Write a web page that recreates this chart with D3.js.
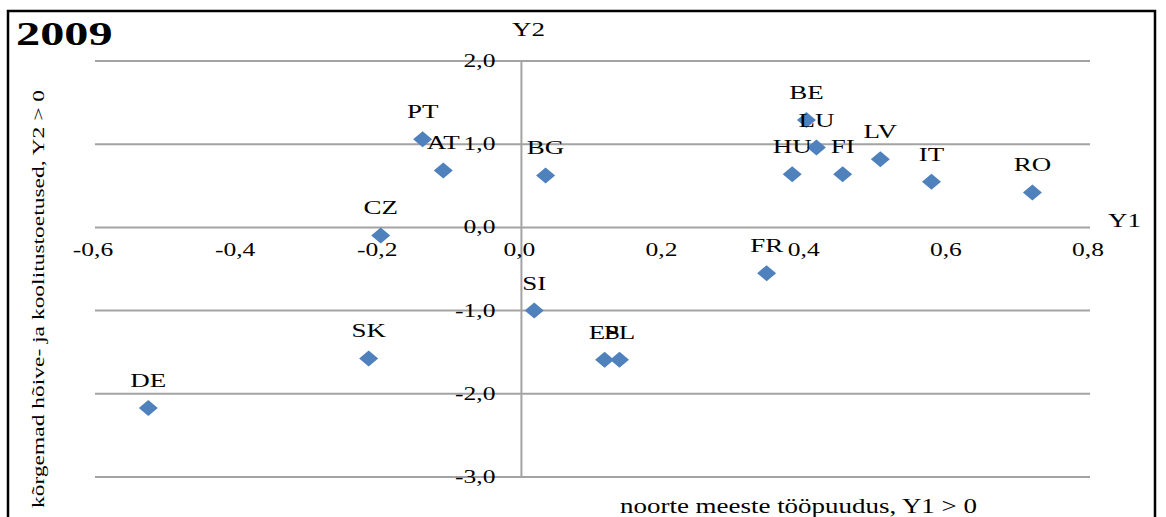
<!DOCTYPE html>
<html>
<head>
<meta charset="utf-8">
<script src="https://cdn.jsdelivr.net/npm/d3@7"></script>
<style>
  body { margin: 0; background: #fff; }
  svg text { font-family: "Liberation Serif", "Times New Roman", Times, "DejaVu Serif", serif; fill: #000; }
</style>
</head>
<body>
<div id="chart"></div>
<script>
// data
const countries = ['PT', 'AT', 'BG', 'CZ', 'BE', 'LU', 'HU', 'FI', 'LV', 'IT', 'RO', 'FR', 'SI', 'ES', 'PL', 'SK', 'DE'];
const y1Values = [-0.139, -0.110, 0.034, -0.198, 0.401, 0.415, 0.381, 0.452, 0.505, 0.577, 0.719, 0.345, 0.018, 0.117, 0.138, -0.215, -0.525];
const y2Values = [1.06, 0.685, 0.625, -0.096, 1.29, 0.96, 0.64, 0.64, 0.82, 0.55, 0.42, -0.55, -1.0, -1.59, -1.59, -1.575, -2.17];
const xTicks = [-0.6, -0.4, -0.2, 0.0, 0.2, 0.4, 0.6, 0.8];
const yTicks = [2, 1, 0, -1, -2, -3];

const W = 1166, H = 517;
const sx = 1.42; // the picture is stretched sideways
const gridColor = '#a3a3a3';
const markColor = '#4f81bd';
const serif = '"Liberation Serif", "Times New Roman", Times, "DejaVu Serif", serif';

const x = d3.scaleLinear().domain([-0.6, 0.8]).range([95, 1090]);
const y = d3.scaleLinear().domain([-3, 2]).range([477, 61]);
const fmt = v => d3.format('.1f')(v).replace('.', ',').replace('−', '-');

const svg = d3.select('#chart').append('svg')
  .attr('width', W)
  .attr('height', H)
  .attr('font-family', serif);

// frame
svg.append('rect')
  .attr('x', 8).attr('y', 11)
  .attr('width', 1147).attr('height', 530)
  .attr('fill', 'none')
  .attr('stroke', '#000')
  .attr('stroke-width', 2.5);

// horizontal gridlines
svg.selectAll('.grid')
  .data(yTicks)
  .enter().append('line')
  .attr('class', 'grid')
  .attr('x1', x(-0.6)).attr('x2', x(0.8))
  .attr('y1', d => y(d)).attr('y2', d => y(d))
  .attr('stroke', gridColor)
  .attr('stroke-width', 2);

// vertical axis at Y1 = 0
svg.append('line')
  .attr('x1', x(0)).attr('x2', x(0))
  .attr('y1', y(2)).attr('y2', y(-3))
  .attr('stroke', gridColor)
  .attr('stroke-width', 2);

// y tick labels
svg.selectAll('.ylab')
  .data(yTicks)
  .enter().append('text')
  .attr('class', 'ylab')
  .attr('text-anchor', 'end')
  .attr('font-size', 18)
  .attr('transform', d => `translate(${x(0) - 26},${y(d) + 6}) scale(${sx},1)`)
  .text(d => fmt(d));

// x tick labels
svg.selectAll('.xlab')
  .data(xTicks)
  .enter().append('text')
  .attr('class', 'xlab')
  .attr('text-anchor', 'middle')
  .attr('font-size', 18)
  .attr('transform', d => `translate(${x(d) - 2},${y(0) + 29}) scale(${sx},1)`)
  .text(d => fmt(d));

// points
const pts = countries.map((c, i) => ({ name: c, y1: y1Values[i], y2: y2Values[i] }));

svg.selectAll('.pt')
  .data(pts)
  .enter().append('path')
  .attr('class', 'pt')
  .attr('d', 'M0,-8L9.5,0L0,8L-9.5,0Z')
  .attr('transform', d => `translate(${x(d.y1)},${y(d.y2)})`)
  .attr('fill', markColor);

svg.selectAll('.plab')
  .data(pts)
  .enter().append('text')
  .attr('class', 'plab')
  .attr('text-anchor', 'middle')
  .attr('font-size', 19)
  .attr('transform', d => `translate(${x(d.y1)},${y(d.y2) - 21}) scale(${sx},1)`)
  .text(d => d.name);

// title
svg.append('text')
  .attr('font-size', 34)
  .attr('font-weight', 'bold')
  .attr('transform', `translate(16,45) scale(${sx},1)`)
  .text('2009');

// axis names
svg.append('text')
  .attr('font-size', 19)
  .attr('transform', `translate(512,36) scale(${sx},1)`)
  .text('Y2');

svg.append('text')
  .attr('font-size', 19)
  .attr('transform', `translate(1108,227) scale(${sx},1)`)
  .text('Y1');

svg.append('text')
  .attr('x', 620).attr('y', 513)
  .attr('font-size', 20)
  .attr('textLength', 357)
  .attr('lengthAdjust', 'spacingAndGlyphs')
  .text('noorte meeste tööpuudus, Y1 > 0');

svg.append('text')
  .attr('transform', 'translate(44,299) rotate(-90)')
  .attr('text-anchor', 'middle')
  .attr('font-size', 17)
  .attr('textLength', 418)
  .attr('lengthAdjust', 'spacingAndGlyphs')
  .text('kõrgemad hõive- ja koolitustoetused, Y2 > 0');
</script>
</body>
</html>
